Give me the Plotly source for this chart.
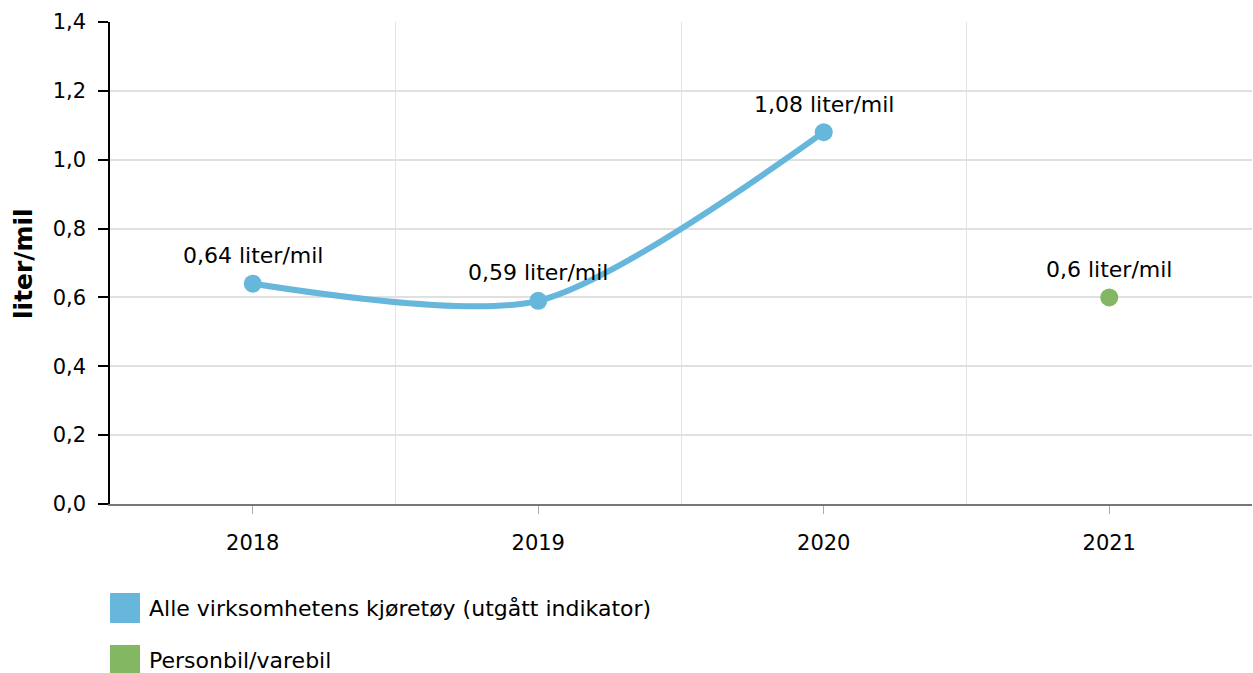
import plotly.graph_objects as go

years_all = [2018, 2019, 2020]
values_all = [0.64, 0.59, 1.08]
years_car = [2021]
values_car = [0.6]
series_names = ["Alle virksomhetens kjøretøy (utgått indikator)", "Personbil/varebil"]
series_colors = ["#67b7dc", "#84b761"]
unit = "liter/mil"
tick_years = [2018, 2019, 2020, 2021]

OFF = 0
W, H = 1253, 673
ML, MR, MT, MB = 110, 1, 22, 169
PW, PH = W - ML - MR, H - MT - MB
FONT = "Verdana, DejaVu Sans, sans-serif"


def px_x(x):
    return (x - OFF - ML) / PW


def px_y(y):
    return (H - MB - (y - OFF)) / PH


def fmt(v):
    return f"{v:g}".replace(".", ",") + " " + unit


fig = go.Figure()
fig.add_trace(go.Scatter(
    x=years_all, y=values_all, mode="lines+markers", name=series_names[0],
    line=dict(color=series_colors[0], width=6, shape="spline", smoothing=0.75),
    marker=dict(color=series_colors[0], size=18), showlegend=False,
))
fig.add_trace(go.Scatter(
    x=years_car, y=values_car, mode="markers", name=series_names[1],
    marker=dict(color=series_colors[1], size=18), showlegend=False,
))

annotations = []
for xs, ys in ((years_all, values_all), (years_car, values_car)):
    for x, y in zip(xs, ys):
        annotations.append(dict(x=x, y=y, text=fmt(y), showarrow=False,
                                yshift=28, font=dict(size=22, color="#000", family=FONT)))

# y-axis title
annotations.append(dict(xref="paper", yref="paper", x=px_x(23), y=px_y(264),
                        xanchor="center", yanchor="middle", textangle=-90,
                        text="<b>" + unit + "</b>", showarrow=False,
                        font=dict(size=25, color="#000", family=FONT)))

shapes = []
legend_rows = [608, 660]
for name, color, yc in zip(series_names, series_colors, legend_rows):
    shapes.append(dict(type="rect", xref="paper", yref="paper",
                       x0=px_x(110), x1=px_x(140), y0=px_y(yc - 15), y1=px_y(yc + 15),
                       fillcolor=color, line=dict(width=0)))
    annotations.append(dict(xref="paper", yref="paper", x=px_x(147), y=px_y(yc),
                            xanchor="left", yanchor="middle", text=name, showarrow=False,
                            font=dict(size=22, color="#000", family=FONT)))

fig.update_layout(
    width=W, height=H,
    margin=dict(l=ML, r=MR, t=MT, b=MB),
    paper_bgcolor="white", plot_bgcolor="white",
    separators=",.",
    font=dict(family=FONT, size=21, color="#000"),
    annotations=annotations, shapes=shapes,
    xaxis=dict(
        range=[2017.5, 2021.5], tickvals=tick_years, ticktext=[str(t) for t in tick_years],
        showgrid=False, zeroline=False,
        showline=True, linecolor="#777", linewidth=1.5,
        ticks="outside", ticklen=8, tickcolor="#aaa", tickwidth=1,
        ticklabelstandoff=11,
        minor=dict(tickvals=[2018.5, 2019.5, 2020.5, 2021.5], showgrid=True,
                   gridcolor="#e3e3e3", gridwidth=1, ticks=""),
        tickfont=dict(size=21),
    ),
    yaxis=dict(
        range=[0, 1.4], dtick=0.2, tickformat=".1f",
        showgrid=True, gridcolor="#e0e0e0", gridwidth=1.5, zeroline=False,
        showline=True, linecolor="#000", linewidth=1.5,
        ticks="outside", ticklen=10, tickcolor="#000", tickwidth=1.5,
        ticklabelstandoff=8,
        tickfont=dict(size=21),
    ),
)

fig.write_html(
    "out.html",
    config={"displayModeBar": False},
    post_script="document.body.style.margin='0';document.body.style.overflow='hidden';",
)
